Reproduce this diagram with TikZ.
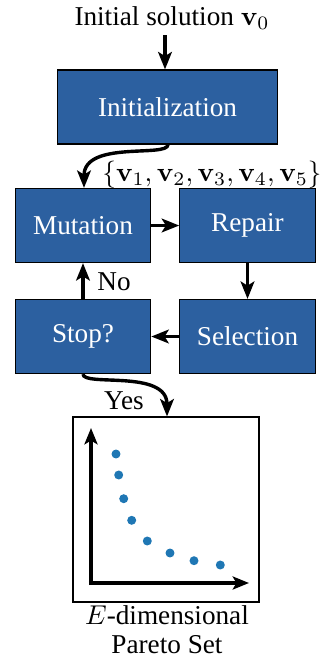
\documentclass[tikz,border=0pt]{standalone}
\usepackage[no-math]{fontspec}
\setmainfont{Liberation Serif}
\usetikzlibrary{arrows.meta}
\definecolor{boxblue}{RGB}{44,96,160}
\definecolor{dotblue}{RGB}{31,119,180}
\begin{document}
\begin{tikzpicture}[x=0.3676pt,y=-0.3676pt,
  stagebox/.style={draw=black,line width=0.4pt,fill=boxblue,text=white,
    minimum width=49.8pt,minimum height=27.2pt,inner sep=0pt,font=\fontsize{10}{12}\selectfont},
  flow/.style={line width=1.25pt,-{Stealth[length=6.4pt,width=5pt,inset=1.5pt]}},
  axis/.style={line width=1.6pt,-{Stealth[length=6pt,width=4.8pt,inset=1.4pt]}},
  lbl/.style={inner sep=0pt,font=\fontsize{10}{12}\selectfont}]
\useasboundingbox (0,0) rectangle (321,668);

% input and initialization
\node[lbl] (title) at (172,18) {Initial solution $\mathbf{v}_0$};
\coordinate (tin) at (165,35);
\node[stagebox,minimum width=81.2pt] (init) at (167.5,107) {Initialization};

% main loop
\node[stagebox] (mut) at (83,225.5) {Mutation};
\node[stagebox] (rep) at (247.5,225.5) {Repair};
\node[stagebox] (sel) at (247.5,336.5) {Selection};
\node[stagebox] (stop) at (83,336.5) {Stop?};

% output Pareto set
\node[draw=black,line width=0.4pt,minimum width=68.4pt,minimum height=68pt,inner sep=0pt] (plot) at (166,509.5) {};

\draw[flow] (tin) -- (init.north -| tin);
\draw[flow] (init.south -| 168,0) .. controls (168,158) and (84,140) .. (mut.north -| 84,0);
\node[lbl] (pop) at (212,175) {$\{\mathbf{v}_1,\mathbf{v}_2,\mathbf{v}_3,\mathbf{v}_4,\mathbf{v}_5\}$};
\draw[flow] (mut.east) -- (rep.west);
\draw[flow] (rep.south) -- (sel.north);
\draw[flow] (sel.west) -- (stop.east);
\draw[flow] (stop.north) -- (mut.south);
\node[lbl] (no) at (114,282) {No};
\draw[flow] (stop.south) .. controls (83,387) and (167,369) .. (plot.north -| 167,0);
\node[lbl] (yes) at (124,401) {Yes};

% axes and front
\coordinate (org) at (91,583);
\coordinate (ytop) at (91,428);
\coordinate (xend) at (249,583);
\draw[axis] ([yshift=-0.8pt]org) -- (ytop);
\draw[axis] ([xshift=-0.8pt]org) -- (xend);
\foreach \px/\py in {116/454,118.7/475,123.7/498.7,131.7/520.3,147.3/541,170/553,194/560.7,220.3/565}
  \fill[dotblue] (\px,\py) circle (1.65pt);

\node[lbl] (cap1) at (167,615) {$E$-dimensional};
\node[lbl] (cap2) at (167,645) {Pareto Set};
\end{tikzpicture}
\end{document}
